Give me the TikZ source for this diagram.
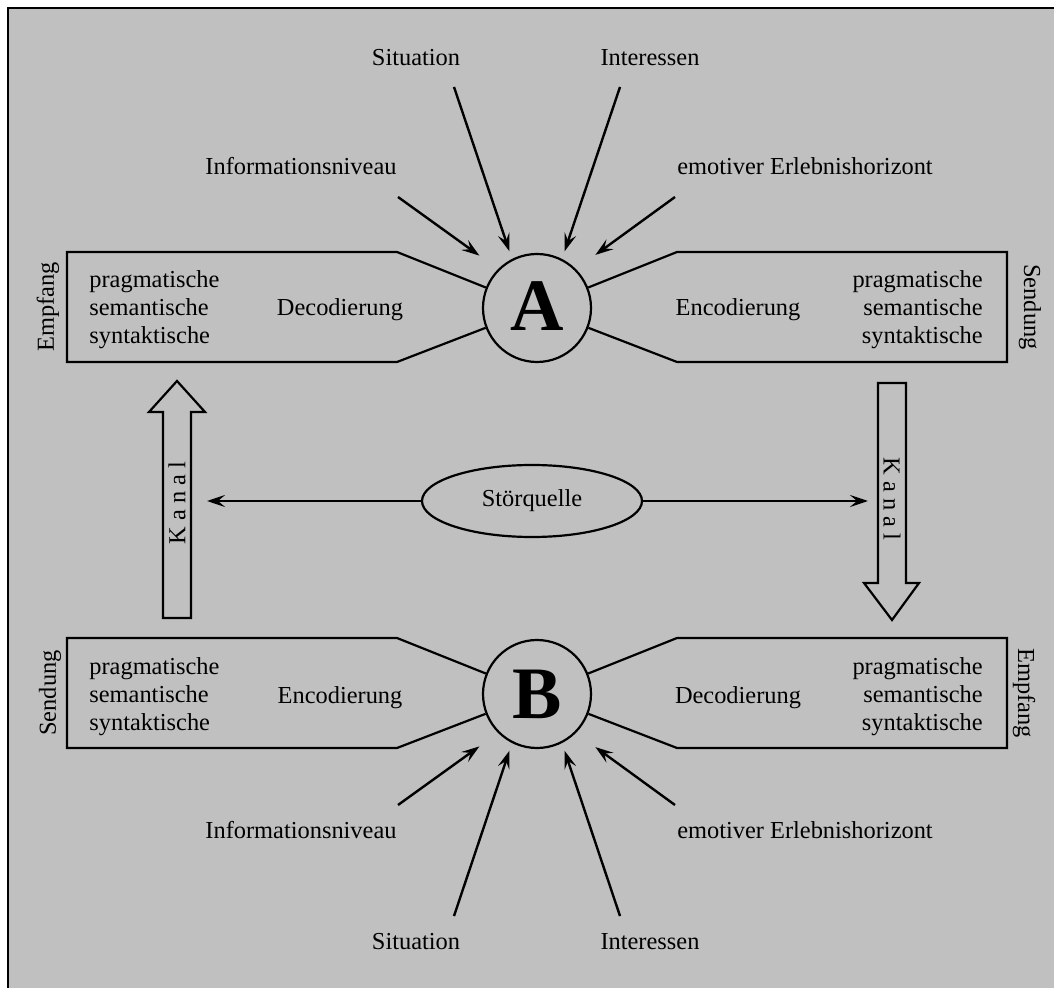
\documentclass[tikz,border=0pt]{standalone}
\usepackage{fontspec}
\setmainfont{Liberation Serif}
\usetikzlibrary{arrows.meta,shapes.geometric}
\definecolor{panel}{HTML}{C0C0C0}

\begin{document}
\begin{tikzpicture}[x=0.5pt,y=-0.5pt,
	lbl/.style={font=\fontsize{12.2}{14}\selectfont, inner sep=0pt},
	person/.style={draw, circle, line width=1.1pt, minimum size=54pt, inner sep=0pt, font=\fontsize{37}{40}\selectfont\bfseries},
	frame/.style={line width=1.1pt},
	feed/.style={line width=1.2pt, -{Stealth[length=9pt,width=6pt,inset=3.5pt]}},
	]
	\useasboundingbox (0,0) rectangle (1054,988);
	% Background
	\draw[line width=1pt, fill=panel] (8,8) rectangle (1070,1000);
	
	% Partners
	\node[person] (A) at (537,308) {\raisebox{1.5pt}{A}};
	\node[person] (B) at (537,694) {B};
	
	% Upper boxes
	\draw[frame] (A) -- (397,252) -- (67,252) -- (67,362) -- (397,362) -- (A);
	\draw[frame] (A) -- (677,252) -- (1007,252) -- (1007,362) -- (677,362) -- (A);
	\node[lbl, anchor=west, align=left] (levAL) at (89,310) {pragmatische\\semantische\\syntaktische};
	\node[lbl, anchor=base] (decA) at (340,316) {Decodierung};
	\node[lbl, anchor=base] (encA) at (738,316) {Encodierung};
	\node[lbl, anchor=east, align=right] (levAR) at (983,310) {pragmatische\\semantische\\syntaktische};
	\node[lbl, rotate=90] (empfA) at (48,307) {Empfang};
	\node[lbl, rotate=-90] (sendA) at (1030,307) {Sendung};
	
	% Lower boxes
	\draw[frame] (B) -- (397,638) -- (67,638) -- (67,748) -- (397,748) -- (B);
	\draw[frame] (B) -- (677,638) -- (1007,638) -- (1007,748) -- (677,748) -- (B);
	\node[lbl, anchor=west, align=left] (levBL) at (89,697) {pragmatische\\semantische\\syntaktische};
	\node[lbl, anchor=base] (encB) at (340,703) {Encodierung};
	\node[lbl, anchor=base] (decB) at (738,703) {Decodierung};
	\node[lbl, anchor=east, align=right] (levBR) at (983,697) {pragmatische\\semantische\\syntaktische};
	\node[lbl, rotate=90] (sendB) at (50,693) {Sendung};
	\node[lbl, rotate=-90] (empfB) at (1024,693) {Empfang};
	
	% Influences on A
	\node[lbl, anchor=base] (sitA) at (416,66) {Situation};
	\node[lbl, anchor=base] (intA) at (650,66) {Interessen};
	\node[lbl, anchor=base] (infA) at (301,175) {Informationsniveau};
	\node[lbl, anchor=base] (emoA) at (805,175) {emotiver Erlebnishorizont};
	\coordinate (sitA-s) at (454,87);
	\coordinate (intA-s) at (620,87);
	\coordinate (infA-s) at (398,197);
	\coordinate (emoA-s) at (675,197);
	\draw[feed, shorten >=4pt] (sitA-s) -- (A.117);
	\draw[feed, shorten >=4pt] (intA-s) -- (A.63);
	\draw[feed, shorten >=11.5pt] (infA-s) -- (A.135);
	\draw[feed, shorten >=12pt] (emoA-s) -- (A.45);
	
	% Influences on B
	\node[lbl, anchor=base] (sitB) at (416,949) {Situation};
	\node[lbl, anchor=base] (intB) at (650,949) {Interessen};
	\node[lbl, anchor=base] (infB) at (301,838) {Informationsniveau};
	\node[lbl, anchor=base] (emoB) at (805,838) {emotiver Erlebnishorizont};
	\coordinate (sitB-s) at (454,916);
	\coordinate (intB-s) at (620,916);
	\coordinate (infB-s) at (398,805);
	\coordinate (emoB-s) at (675,805);
	\draw[feed, shorten >=4pt] (sitB-s) -- (B.-117);
	\draw[feed, shorten >=4pt] (intB-s) -- (B.-63);
	\draw[feed, shorten >=11.5pt] (infB-s) -- (B.-135);
	\draw[feed, shorten >=12pt] (emoB-s) -- (B.-45);
	
	% Channels
	\draw[frame] (163,618) -- (163,412) -- (149,412) -- (177,381) -- (205,412) -- (191,412) -- (191,618) -- cycle;
	\node[lbl, rotate=90] (kanalL) at (177,503) {K a n a l};
	\draw[frame] (878,383) -- (878,583) -- (864,583) -- (892,620) -- (919,583) -- (906,583) -- (906,383) -- cycle;
	\node[lbl, rotate=-90] (kanalR) at (892,499) {K a n a l};
	
	% Noise
	\node[lbl, draw, ellipse, line width=1.1pt, minimum width=110pt, minimum height=36pt] (stoer) at (532,501) {Störquelle};
	\coordinate (kanalL-in) at (207,501);
	\coordinate (kanalR-in) at (868,501);
	\draw[feed] (stoer) -- (kanalL-in);
	\draw[feed] (stoer) -- (kanalR-in);
\end{tikzpicture}
\end{document}
